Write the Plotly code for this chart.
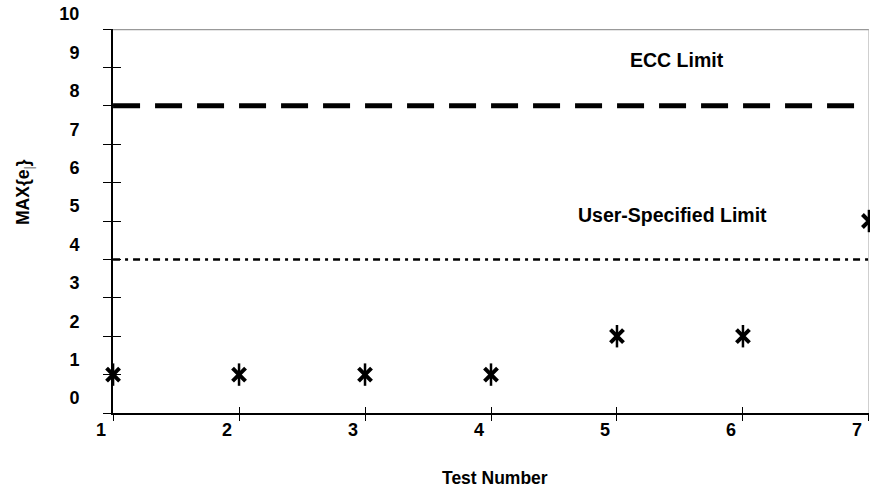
import plotly.graph_objects as go

tests = [1, 2, 3, 4, 5, 6, 7]
max_e = [1, 1, 1, 1, 2, 2, 5]
ecc_limit = 8
user_limit = 4
x_ticks = [1, 2, 3, 4, 5, 6, 7]
y_ticks = list(range(0, 11))

FONT = "Liberation Sans, Arial, sans-serif"
XR = [0.9995, 7.0005]
YR = [0, 10.001]

fig = go.Figure()
# limit lines
fig.add_trace(go.Scatter(x=[tests[0], tests[-1]], y=[ecc_limit, ecc_limit], mode="lines",
                         line=dict(color="black", width=5, dash="27px,15px"),
                         hoverinfo="skip", showlegend=False))
fig.add_trace(go.Scatter(x=[tests[0], tests[-1]], y=[user_limit, user_limit], mode="lines",
                         line=dict(color="black", width=2.5, dash="7px,5px,3px,5px"),
                         hoverinfo="skip", showlegend=False))
# data points (X with a vertical bar)
fig.add_trace(go.Scatter(x=tests, y=max_e, mode="markers", cliponaxis=False,
                         marker=dict(symbol="x-thin-open", size=13, color="black",
                                     line=dict(color="black", width=4)),
                         showlegend=False))
fig.add_trace(go.Scatter(x=tests, y=max_e, mode="markers", cliponaxis=False,
                         marker=dict(symbol="line-ns-open", size=16, color="black",
                                     line=dict(color="black", width=2.5)),
                         hoverinfo="skip", showlegend=False))
# top and right gray border
fig.add_shape(type="line", x0=x_ticks[0], x1=x_ticks[-1], y0=y_ticks[-1], y1=y_ticks[-1],
              line=dict(color="#999999", width=2.5), layer="below")
fig.add_shape(type="line", x0=x_ticks[-1], x1=x_ticks[-1], y0=y_ticks[0], y1=y_ticks[-1],
              line=dict(color="#aaaaaa", width=1), layer="below")

annfont = dict(family=FONT, size=19.5, color="black", weight="bold")
fig.add_annotation(x=5.48, y=9.19, text="ECC Limit", showarrow=False, font=annfont)
fig.add_annotation(x=5.44, y=5.16, text="User-Specified Limit", showarrow=False, font=annfont)

titlefont = dict(family=FONT, size=17.5, color="black", weight="bold")
fig.add_annotation(xref="paper", yref="paper", x=(495 - 113) / 756, y=-(478 - 413) / 384,
                   text="Test Number", showarrow=False, font=titlefont,
                   xanchor="center", yanchor="middle")
fig.add_annotation(xref="paper", yref="paper", x=-(113 - 24) / 756, y=(413 - 192) / 384,
                   text="MAX{e<sub><span style='color:#999999'>|</span></sub>}",
                   showarrow=False, font=titlefont, textangle=-90,
                   xanchor="center", yanchor="middle")

tickfont = dict(family=FONT, size=18, color="black", weight="bold")
fig.update_layout(
    width=870, height=490,
    margin=dict(l=113, r=1, t=29, b=77, autoexpand=False),
    plot_bgcolor="white", paper_bgcolor="white",
    xaxis=dict(range=XR, tickvals=x_ticks, ticktext=[str(v) for v in x_ticks], automargin=False,
               showgrid=False, zeroline=False, showline=True, linecolor="black", linewidth=2,
               ticks="outside", ticklen=6, tickwidth=1, tickcolor="black",
               tickfont=tickfont, ticklabelshift=-12, ticklabelstandoff=-7),
    yaxis=dict(range=YR, tickvals=y_ticks, automargin=False,
               showgrid=False, zeroline=False, showline=True, linecolor="black", linewidth=2,
               ticks="outside", ticklen=8, tickwidth=1, tickcolor="black",
               tickfont=tickfont, ticklabelshift=-15, ticklabelstandoff=20),
    xaxis2=dict(range=XR, tickvals=x_ticks, overlaying="x", side="bottom", anchor="y",
                automargin=False,
                showgrid=False, zeroline=False, showline=False, showticklabels=False,
                ticks="inside", ticklen=6, tickwidth=1, tickcolor="black"),
    yaxis2=dict(range=YR, tickvals=y_ticks, overlaying="y", side="left", anchor="x",
                automargin=False,
                showgrid=False, zeroline=False, showline=False, showticklabels=False,
                ticks="inside", ticklen=8, tickwidth=1, tickcolor="black"),
)
# invisible trace to activate the overlay axes
fig.add_trace(go.Scatter(x=[tests[0]], y=[max_e[0]], xaxis="x2", yaxis="y2", mode="markers",
                         marker=dict(opacity=0), hoverinfo="skip", showlegend=False))

fig.write_html("out.html", config={"displayModeBar": False},
               post_script="document.body.style.margin='0';document.body.style.overflow='hidden';")
